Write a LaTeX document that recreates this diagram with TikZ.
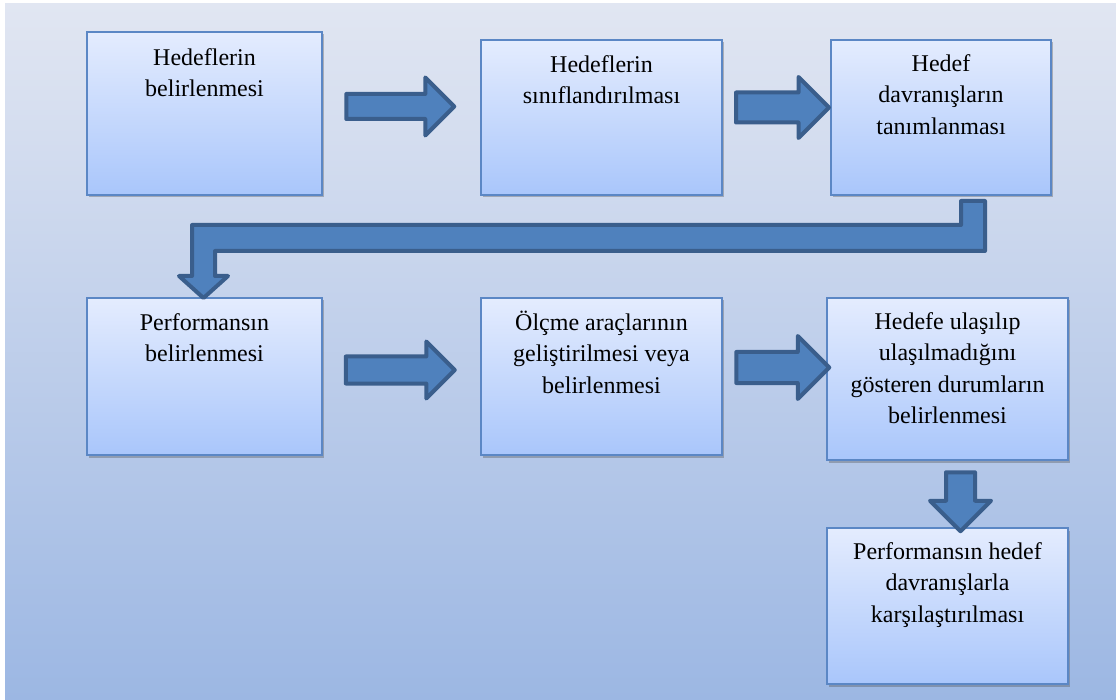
\documentclass[tikz,border=0pt]{standalone}
\usepackage{fontspec}
\setmainfont{Liberation Serif}
\usetikzlibrary{shapes.arrows,shadows,calc}
\definecolor{bgtop}{HTML}{E1E6F2}
\definecolor{bgbot}{HTML}{9CB7E3}
\definecolor{boxtop}{HTML}{E4ECFE}
\definecolor{boxbot}{HTML}{A9C6FB}
\definecolor{boxline}{HTML}{5B87C5}
\definecolor{arrfill}{HTML}{4F81BD}
\definecolor{arrline}{HTML}{3A5E8C}
\newcommand{\fl}{\rule{0pt}{21pt}}
\tikzset{
  stepbox/.style={rectangle, draw=boxline, line width=1.6pt, top color=boxtop, bottom color=boxbot,
    inner sep=0pt, drop shadow={shadow xshift=1.5pt, shadow yshift=-2.5pt, opacity=0.35, fill=black!70}},
  lbl/.style={align=center, font=\fontsize{24}{31.5}\selectfont, inner sep=0pt, anchor=north},
  blockarr/.style={single arrow, draw=arrline, fill=arrfill, line width=4pt, line join=round,
    minimum width=0pt, inner xsep=0pt, single arrow head indent=0pt, single arrow tip angle=90},
}
\begin{document}
\begin{tikzpicture}[x=1pt,y=-1pt]
\useasboundingbox (0,0) rectangle (1116,700);
\fill[top color=bgtop, bottom color=bgbot] (5,4) rectangle (1116,700);

% boxes
\node[stepbox, minimum width=235pt, minimum height=163pt] (b1) at (204.5,113.5) {};
\node[stepbox, minimum width=241pt, minimum height=155pt] (b2) at (601.5,117.5) {};
\node[stepbox, minimum width=220pt, minimum height=155pt] (b3) at (941,117.5) {};
\node[stepbox, minimum width=235pt, minimum height=157pt] (b4) at (204.5,376.5) {};
\node[stepbox, minimum width=241pt, minimum height=157pt] (b5) at (601.5,376.5) {};
\node[stepbox, minimum width=241pt, minimum height=162pt] (b6) at (947.5,379) {};
\node[stepbox, minimum width=241pt, minimum height=156pt] (b7) at (947.5,606) {};

% texts (first-line baseline about 33px below the box top)
\node[lbl] (t1) at ([yshift=-13pt]b1.north) {\fl Hedeflerin\\belirlenmesi};
\node[lbl] (t2) at ([yshift=-12pt]b2.north) {\fl Hedeflerin\\sınıflandırılması};
\node[lbl] (t3) at ([yshift=-11pt]b3.north) {\fl Hedef\\davranışların\\tanımlanması};
\node[lbl] (t4) at ([yshift=-12pt]b4.north) {\fl Performansın\\belirlenmesi};
\node[lbl] (t5) at ([yshift=-12pt]b5.north) {\fl Ölçme araçlarının\\geliştirilmesi veya\\belirlenmesi};
\node[lbl] (t6) at ([yshift=-11pt]b6.north) {\fl Hedefe ulaşılıp\\ulaşılmadığını\\gösteren durumların\\belirlenmesi};
\node[lbl] (t7) at ([yshift=-11pt]b7.north) {\fl Performansın hedef\\davranışlarla\\karşılaştırılması};

% straight block arrows
\node[blockarr, minimum height=108pt, inner ysep=10.5pt, single arrow head extend=16.5pt] (a1) at (394,106.5) {};
\node[blockarr, minimum height=93pt, inner ysep=13pt, single arrow head extend=15.5pt] (a2) at (775,107.5) {};
\node[blockarr, minimum height=109pt, inner ysep=11.5pt, single arrow head extend=15pt] (a3) at (393.5,370) {};
\node[blockarr, minimum height=93pt, inner ysep=13.5pt, single arrow head extend=16pt] (a4) at (775,367.5) {};
\node[blockarr, minimum height=59pt, inner ysep=12.5pt, single arrow head extend=16pt, rotate=-90] (a5) at (960.5,494.5) {};

% bent arrow from b3 to b4
\draw[draw=arrline, fill=arrfill, line width=4pt, line join=round]
  (961,201) -- (985,201) -- (985,251) -- (215,251) -- (215,276) -- (228,276)
  -- (203.5,298) -- (179,276) -- (192,276) -- (192,225) -- (961,225) -- cycle;
\end{tikzpicture}
\end{document}
